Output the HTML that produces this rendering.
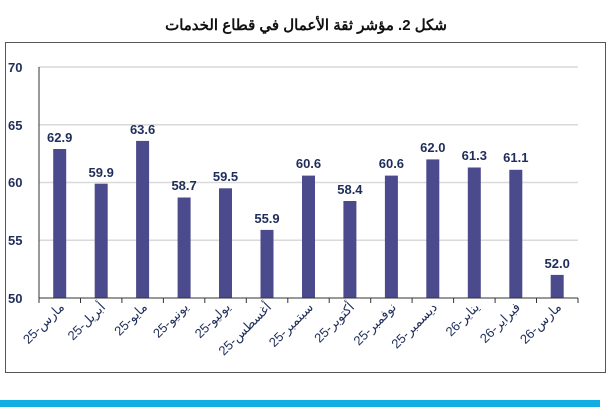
<!DOCTYPE html>
<html><head><meta charset="utf-8"><style>
body{margin:0;background:#fff;width:613px;height:407px;overflow:hidden}
</style></head><body>
<svg width="613" height="407" xmlns="http://www.w3.org/2000/svg" font-family="'Liberation Sans','Noto Sans CJK SC',sans-serif">
<text x="306" y="30" text-anchor="middle" font-size="15" font-weight="bold" fill="#111" direction="rtl">شكل 2. مؤشر ثقة الأعمال في قطاع الخدمات</text>
<rect x="5.5" y="42.5" width="600" height="330" fill="#fff" stroke="#555" stroke-width="1"/>
<g stroke="#d9d9d9" stroke-width="1.5">
<line x1="39" y1="67" x2="578" y2="67"/>
<line x1="39" y1="124.75" x2="578" y2="124.75"/>
<line x1="39" y1="182.5" x2="578" y2="182.5"/>
<line x1="39" y1="240.25" x2="578" y2="240.25"/>
</g>
<g font-size="13" font-weight="bold" fill="#1f2d5a">
<text x="8" y="72">70</text><text x="8" y="130">65</text><text x="8" y="187">60</text><text x="8" y="245">55</text><text x="8" y="303">50</text>
</g>
<g fill="#4b4a8c">
<rect x="53.2" y="149.0" width="13" height="149.0"/>
<rect x="94.7" y="183.7" width="13" height="114.3"/>
<rect x="136.1" y="140.9" width="13" height="157.1"/>
<rect x="177.6" y="197.5" width="13" height="100.5"/>
<rect x="219.0" y="188.3" width="13" height="109.7"/>
<rect x="260.5" y="229.9" width="13" height="68.1"/>
<rect x="302.0" y="175.6" width="13" height="122.4"/>
<rect x="343.4" y="201.0" width="13" height="97.0"/>
<rect x="384.9" y="175.6" width="13" height="122.4"/>
<rect x="426.3" y="159.4" width="13" height="138.6"/>
<rect x="467.8" y="167.5" width="13" height="130.5"/>
<rect x="509.3" y="169.8" width="13" height="128.2"/>
<rect x="550.7" y="274.9" width="13" height="23.1"/>
</g>
<g font-size="13" font-weight="bold" fill="#1f2d5a" text-anchor="middle">
<text x="59.7" y="142">62.9</text>
<text x="101.2" y="177">59.9</text>
<text x="142.6" y="134">63.6</text>
<text x="184.1" y="190">58.7</text>
<text x="225.5" y="181">59.5</text>
<text x="267" y="223">55.9</text>
<text x="308.5" y="168">60.6</text>
<text x="349.9" y="194">58.4</text>
<text x="391.4" y="168">60.6</text>
<text x="432.8" y="152">62.0</text>
<text x="474.3" y="160">61.3</text>
<text x="515.8" y="162">61.1</text>
<text x="557.2" y="268">52.0</text>
</g>
<line x1="39" y1="298" x2="578" y2="298" stroke="#333" stroke-width="1"/>
<line x1="39" y1="67" x2="39" y2="298" stroke="#333" stroke-width="1"/>
<g stroke="#333">
<line x1="39" y1="298" x2="39" y2="303"/><line x1="80.5" y1="298" x2="80.5" y2="303"/><line x1="121.9" y1="298" x2="121.9" y2="303"/><line x1="163.4" y1="298" x2="163.4" y2="303"/><line x1="204.8" y1="298" x2="204.8" y2="303"/><line x1="246.3" y1="298" x2="246.3" y2="303"/><line x1="287.8" y1="298" x2="287.8" y2="303"/><line x1="329.2" y1="298" x2="329.2" y2="303"/><line x1="370.7" y1="298" x2="370.7" y2="303"/><line x1="412.1" y1="298" x2="412.1" y2="303"/><line x1="453.6" y1="298" x2="453.6" y2="303"/><line x1="495.1" y1="298" x2="495.1" y2="303"/><line x1="536.5" y1="298" x2="536.5" y2="303"/><line x1="578" y1="298" x2="578" y2="303"/>
</g>
<g font-size="13" fill="#1f2d5a" text-anchor="end">
<text transform="translate(65,308) rotate(-45)">25-مارس</text>
<text transform="translate(106,308) rotate(-45)">25-أبريل</text>
<text transform="translate(148,308) rotate(-45)">25-مايو</text>
<text transform="translate(189,308) rotate(-45)">25-يونيو</text>
<text transform="translate(231,308) rotate(-45)">25-يوليو</text>
<text transform="translate(272,308) rotate(-45)">25-أغسطس</text>
<text transform="translate(314,308) rotate(-45)">25-سبتمبر</text>
<text transform="translate(355,308) rotate(-45)">25-أكتوبر</text>
<text transform="translate(397,308) rotate(-45)">25-نوفمبر</text>
<text transform="translate(438,308) rotate(-45)">25-ديسمبر</text>
<text transform="translate(480,308) rotate(-45)">26-يناير</text>
<text transform="translate(521,308) rotate(-45)">26-فبراير</text>
<text transform="translate(562,308) rotate(-45)">26-مارس</text>
</g>
<rect x="0" y="400" width="600" height="7" fill="#12aee3"/>
</svg>
</body></html>
